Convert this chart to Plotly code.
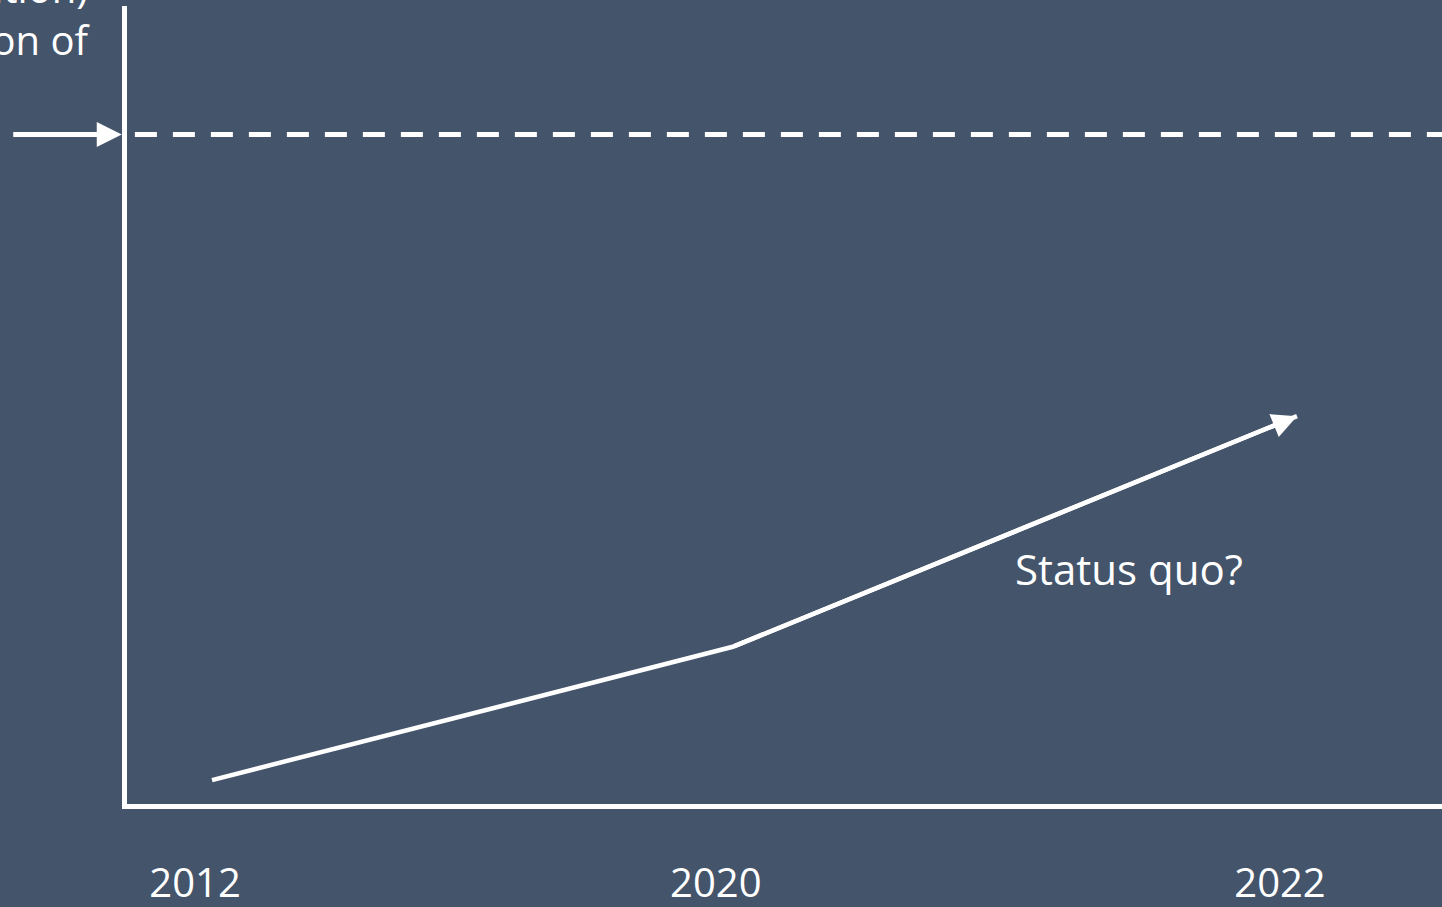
import plotly.graph_objects as go

# ---- data (conceptual chart) ----
years = ["2012", "2020", "2022"]
line_x = [0.0, 0.96, 2.0]          # category positions of the status-quo path
line_y = [3.0, 19.7, 48.6]          # status-quo trajectory (arbitrary units)
target_y = 83.9                     # dashed target level
status_label = "Status quo?"
axis_label_lines = ["ation)", "on of"]

BG = "#44546A"
WHITE = "#FFFFFF"
FONT = "Open Sans"

fig = go.Figure()

# status quo path
fig.add_trace(go.Scatter(
    x=line_x, y=line_y, mode="lines",
    line=dict(color=WHITE, width=4.5),
    hoverinfo="skip", showlegend=False,
))

# arrowhead on the final segment
fig.add_annotation(
    x=line_x[-1], y=line_y[-1], xref="x", yref="y",
    ax=line_x[-2], ay=line_y[-2], axref="x", ayref="y",
    text="", showarrow=True, arrowhead=2, arrowwidth=4.5, arrowsize=1.1,
    arrowcolor=WHITE, standoff=0, startstandoff=0,
)

# dashed target line
fig.add_shape(
    type="line", xref="paper", yref="y", x0=0.006, x1=1.0,
    y0=target_y, y1=target_y,
    line=dict(color=WHITE, width=5, dash="22px,16px"),
)

# arrow pointing at target from left (outside plot area)
fig.add_annotation(
    x=-0.004, y=target_y, xref="paper", yref="y",
    ax=-110, ay=0, axref="pixel", ayref="pixel",
    text="", showarrow=True, arrowhead=2, arrowwidth=5, arrowsize=1.0,
    arrowcolor=WHITE, standoff=0, startstandoff=0,
)

# status quo label
fig.add_annotation(
    x=1.69, y=29.5, xref="x", yref="y",
    text=status_label, showarrow=False,
    font=dict(family=FONT, size=42, color=WHITE),
    xanchor="center", yanchor="middle",
)

# clipped axis title fragment at top-left
fig.add_annotation(
    x=-0.0259, y=0.9205, xref="paper", yref="paper",
    text="<br>".join(axis_label_lines), showarrow=False,
    font=dict(family=FONT, size=40, color=WHITE),
    xanchor="right", yanchor="bottom", align="right",
)

fig.update_layout(
    width=1442, height=907,
    paper_bgcolor=BG, plot_bgcolor=BG,
    margin=dict(l=127, r=0, t=6, b=103, autoexpand=False),
    showlegend=False,
    xaxis=dict(
        range=[-0.1567, 2.2673], showgrid=False, zeroline=False,
        showline=True, linecolor=WHITE, linewidth=5, automargin=False,
        tickmode="array", tickvals=line_x, ticktext=years,
        ticks="", ticklabelshift=-17, ticklabelstandoff=40,
        tickfont=dict(family=FONT, size=40, color=WHITE),
        fixedrange=True,
    ),
    yaxis=dict(
        range=[0, 100], showgrid=False, zeroline=False,
        showline=True, linecolor=WHITE, linewidth=5, automargin=False,
        showticklabels=False, ticks="", fixedrange=True,
    ),
)

fig.write_html(
    "out.html",
    config={"displayModeBar": False},
    post_script="document.body.style.margin='0';document.body.style.overflow='hidden';"
                "document.documentElement.style.overflow='hidden';",
)
